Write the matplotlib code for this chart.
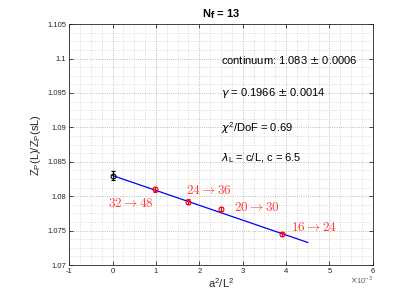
import matplotlib
matplotlib.use("Agg")
import matplotlib.pyplot as plt
from matplotlib.ticker import MultipleLocator, FuncFormatter
import numpy as np

# Data
cont_x = [0.0]
cont_y = [1.083]
cont_err = [0.0006]

lat_x = [1/1024, 1/576, 1/400, 1/256]
lat_y = [1.0810, 1.0792, 1.0781, 1.0745]
lat_err = [0.0004, 0.0004, 0.0003, 0.0003]
lat_labels = [r"$32 \rightarrow 48$", r"$24 \rightarrow 36$", r"$20 \rightarrow 30$", r"$16 \rightarrow 24$"]
label_pos = [(-0.1e-3, 1.0790), (1.69e-3, 1.0809), (2.80e-3, 1.0784), (4.11e-3, 1.0755)]

fit_intercept = 1.083
fit_slope = -2.16
fit_range = [0.0, 4.5e-3]

info_texts = ["continuum: 1.083 $\\pm$ 0.0006",
              "$\\gamma$ = 0.1966 $\\pm$ 0.0014",
              "$\\chi^\\mathregular{2}$/DoF = 0.69",
              "$\\lambda_\\mathregular{L}$ = c/L, c = 6.5"]
info_y = [1.0998, 1.0950, 1.0899, 1.0855]

plt.rcParams['font.family'] = ['Liberation Sans', 'DejaVu Sans']
plt.rcParams['mathtext.fontset'] = 'dejavusans'

fig = plt.figure(figsize=(4.07, 3.05), dpi=100)
ax = fig.add_axes([0.170, 0.131, 0.746, 0.790])

fx = np.array(fit_range)
ax.plot(fx, fit_intercept + fit_slope * fx, color='blue', lw=0.9, zorder=3)

ax.errorbar(cont_x, cont_y, yerr=cont_err, fmt='o', mfc='none', mec='black',
            ecolor='black', ms=3.5, mew=0.8, elinewidth=0.8, capsize=1.5, zorder=4)
ax.errorbar(lat_x, lat_y, yerr=lat_err, fmt='o', mfc='none', mec='red',
            ecolor='red', ms=3.5, mew=0.8, elinewidth=0.8, capsize=1.5, zorder=4)

for lab, (px, py) in zip(lat_labels, label_pos):
    ax.text(px, py, lab, color='#ff3b3b', fontsize=9.5, math_fontfamily='cm',
            ha='left', va='center')

for t, yy in zip(info_texts, info_y):
    ax.text(2.5e-3, yy, t, fontsize=8, ha='left', va='center', color='black')

ax.set_xlim(-1e-3, 6e-3)
ax.set_ylim(1.07, 1.105)
ax.xaxis.set_major_locator(MultipleLocator(1e-3))
ax.xaxis.set_minor_locator(MultipleLocator(0.25e-3))
ax.yaxis.set_major_locator(MultipleLocator(0.005))
ax.yaxis.set_minor_locator(MultipleLocator(0.00125))
ax.xaxis.set_major_formatter(FuncFormatter(lambda v, p: f"{round(v*1e3):d}"))
ax.yaxis.set_major_formatter(FuncFormatter(lambda v, p: f"{round(v, 4):g}"))

ax.grid(which='major', linestyle=':', color='#a8a8a8', lw=0.6)
ax.grid(which='minor', linestyle=':', color='#c8c8c8', lw=0.5)
ax.set_axisbelow(True)

ax.tick_params(which='major', direction='in', length=3, width=0.6, top=True, right=True,
               labelsize=5.5, colors='#262626', pad=2)
ax.tick_params(which='minor', length=0, top=True, right=True)
for s in ax.spines.values():
    s.set_color('#262626')
    s.set_linewidth(0.6)

ax.set_xlabel(r"a$^\mathregular{2}$/L$^\mathregular{2}$", fontsize=8, color='#262626', labelpad=1)
ax.set_ylabel(r"Z$_\mathregular{P}$(L)/Z$_\mathregular{P}$(sL)", fontsize=8, color='#262626', labelpad=3)
ax.set_title(r"N$_\mathbf{f}$ = 13", fontsize=8, fontweight='bold', pad=5)
ax.text(1.0, -0.062, r"$\times$10$^\mathregular{-3}$", transform=ax.transAxes, fontsize=5.5,
        color='#606060', ha='right', va='center')

fig.savefig("out.png", dpi=100)
